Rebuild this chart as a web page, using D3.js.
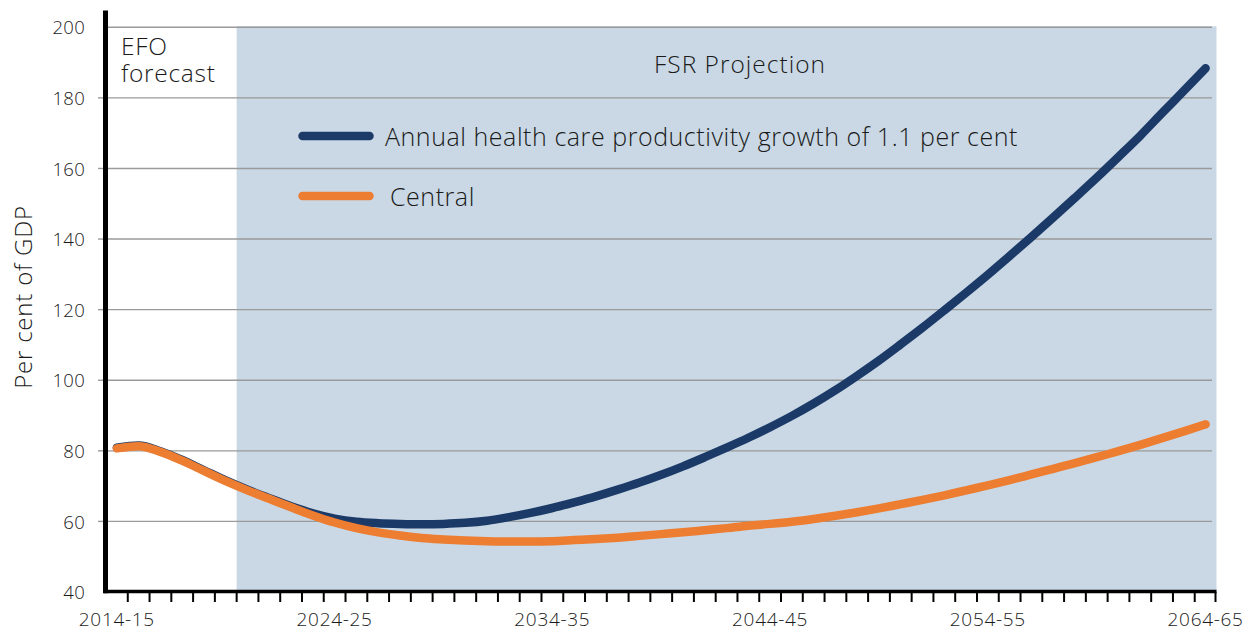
<!DOCTYPE html>
<html>
<head>
<meta charset="utf-8">
<script src="https://cdn.jsdelivr.net/npm/d3@7"></script>
<style>
  html, body { margin: 0; padding: 0; background: #ffffff; }
  svg { display: block; }
  text { font-family: "Open Sans", "Liberation Sans", Arial, sans-serif; font-weight: 300; fill: #1a1a1a; }
</style>
</head>
<body>
<svg id="chart" width="1253" height="633"></svg>
<script>
// ---- data ----
const categories = [
  "2014-15","2015-16","2016-17","2017-18","2018-19","2019-20","2020-21","2021-22","2022-23","2023-24",
  "2024-25","2025-26","2026-27","2027-28","2028-29","2029-30","2030-31","2031-32","2032-33","2033-34",
  "2034-35","2035-36","2036-37","2037-38","2038-39","2039-40","2040-41","2041-42","2042-43","2043-44",
  "2044-45","2045-46","2046-47","2047-48","2048-49","2049-50","2050-51","2051-52","2052-53","2053-54",
  "2054-55","2055-56","2056-57","2057-58","2058-59","2059-60","2060-61","2061-62","2062-63","2063-64",
  "2064-65"
];
const productivitySeries = [
  80.9, 81.5, 79.9, 77.4, 74.5, 71.6, 69.0, 66.6, 64.3, 62.3,
  60.8, 59.9, 59.5, 59.3, 59.2, 59.3, 59.6, 60.2, 61.2, 62.4,
  63.8, 65.4, 67.1, 69.0, 71.0, 73.2, 75.6, 78.2, 80.9, 83.7,
  86.7, 89.9, 93.4, 97.2, 101.3, 105.6, 110.2, 114.9, 119.8, 124.8,
  129.9, 135.2, 140.6, 146.1, 151.7, 157.4, 163.3, 169.3, 175.7, 182.0,
  188.4
];
const centralSeries = [
  80.7, 81.3, 79.7, 77.2, 74.3, 71.4, 68.8, 66.4, 64.0, 61.7,
  59.7, 58.1, 56.9, 56.0, 55.3, 54.9, 54.6, 54.4, 54.3, 54.3,
  54.4, 54.7, 55.0, 55.4, 55.9, 56.4, 56.9, 57.5, 58.1, 58.8,
  59.3, 59.9, 60.7, 61.6, 62.6, 63.7, 64.9, 66.1, 67.4, 68.8,
  70.2, 71.7, 73.3, 74.9, 76.5, 78.2, 79.9, 81.7, 83.6, 85.5,
  87.5
];
const seriesNames = ["Annual health care productivity growth of 1.1 per cent", "Central"];
const seriesColors = ["#1b3a68", "#ed7d31"];
const xTickLabels = ["2014-15","2024-25","2034-35","2044-45","2054-55","2064-65"];
const yTicks = [40, 60, 80, 100, 120, 140, 160, 180, 200];
const projectionStart = "2020-21";
const yTitle = "Per cent of GDP";
const forecastLabel = ["EFO", "forecast"];
const projectionLabel = "FSR Projection";

(function draw() {
  const svg = d3.select("#chart");
  const pl = 106, pr = 1216.5, pt = 27.3, pb = 592;

  const x = d3.scaleBand().domain(categories).range([pl, pr]).padding(0);
  const bw = x.bandwidth();
  const xc = c => x(c) + bw / 2;
  const y = d3.scaleLinear().domain([40, 200]).range([pb, pt]);

  // shaded projection area
  svg.append("rect")
    .attr("x", x(projectionStart))
    .attr("y", y(200) - 1)
    .attr("width", pr - x(projectionStart))
    .attr("height", pb - y(200) + 1)
    .attr("fill", "#c9d8e4");

  // gridlines
  svg.append("g").selectAll("line")
    .data(yTicks.filter(v => v > 40))
    .join("line")
    .attr("x1", pl + 2).attr("x2", pr - 4.5)
    .attr("y1", d => y(d)).attr("y2", d => y(d))
    .attr("stroke", "#9a9a9a").attr("stroke-width", 1.4);

  // y axis labels
  const yAxis = d3.axisLeft(y).tickValues(yTicks).tickSize(0).tickPadding(0).tickFormat(d3.format("d"));
  const gy = svg.append("g").attr("transform", `translate(${pl},0)`).call(yAxis);
  gy.select(".domain").remove();
  gy.selectAll(".tick text")
    .attr("x", -21)
    .attr("dy", "0.36em")
    .style("font-size", "18.5px")
    .style("font-family", "\"Open Sans\", \"Liberation Sans\", Arial, sans-serif")
    .style("font-weight", 300)
    .style("letter-spacing", "0.3px")
    .attr("fill", "#1a1a1a");
  svg.append("g").selectAll("line")
    .data(yTicks.filter(v => v > 40 && v < 200))
    .join("line")
    .attr("x1", pl - 8).attr("x2", pl)
    .attr("y1", d => y(d)).attr("y2", d => y(d))
    .attr("stroke", "#9a9a9a").attr("stroke-width", 1.4);

  // lines
  const line = d3.line()
    .x((d, i) => xc(categories[i]))
    .y(d => y(d))
    .curve(d3.curveMonotoneX);

  [productivitySeries, centralSeries].forEach((s, k) => {
    svg.append("path")
      .datum(s)
      .attr("d", line)
      .attr("fill", "none")
      .attr("stroke", seriesColors[k])
      .attr("stroke-width", 8.5)
      .attr("stroke-linecap", "round")
      .attr("stroke-linejoin", "round");
  });

  // x axis
  svg.append("line")
    .attr("x1", pl - 2.5).attr("x2", pr)
    .attr("y1", pb - 0.5).attr("y2", pb - 0.5)
    .attr("stroke", "#000").attr("stroke-width", 3.5);
  const tickPos = categories.slice(1).map(c => x(c)).concat([pr - 1]);
  svg.append("g").selectAll("line")
    .data(tickPos)
    .join("line")
    .attr("x1", d => d).attr("x2", d => d)
    .attr("y1", pb).attr("y2", pb + 10)
    .attr("stroke", "#000").attr("stroke-width", 2);
  svg.append("g").selectAll("text")
    .data(xTickLabels)
    .join("text")
    .attr("x", d => xc(d))
    .attr("y", 626)
    .attr("text-anchor", "middle")
    .style("font-size", "19px")
    .style("letter-spacing", "0.7px")
    .text(d => d);

  // y axis line
  svg.append("line")
    .attr("x1", pl - 0.5).attr("x2", pl - 0.5)
    .attr("y1", 10.5).attr("y2", pb + 1.2)
    .attr("stroke", "#000").attr("stroke-width", 5);

  // y title
  svg.append("text")
    .attr("transform", "translate(32,297) rotate(-90)")
    .attr("text-anchor", "middle")
    .style("font-size", "24px")
    .style("letter-spacing", "0.8px")
    .text(yTitle);

  // annotations
  const efo = svg.append("text")
    .attr("x", 121).attr("y", 55)
    .style("font-size", "24.5px")
    .style("letter-spacing", "0.7px");
  efo.append("tspan").attr("x", 121).attr("y", 55).text(forecastLabel[0]);
  efo.append("tspan").attr("x", 121).attr("y", 81.5).text(forecastLabel[1]);

  svg.append("text")
    .attr("x", 740).attr("y", 73)
    .attr("text-anchor", "middle")
    .style("font-size", "24.5px")
    .style("letter-spacing", "1px")
    .text(projectionLabel);

  // legend
  const legendY = [136, 196];
  const legendTextX = [385, 390];
  seriesNames.forEach((n, k) => {
    svg.append("line")
      .attr("x1", 302.5).attr("x2", 369.5)
      .attr("y1", legendY[k]).attr("y2", legendY[k])
      .attr("stroke", seriesColors[k])
      .attr("stroke-width", 8.5)
      .attr("stroke-linecap", "round");
    svg.append("text")
      .attr("x", legendTextX[k]).attr("y", legendY[k] + 9.5)
      .style("font-size", "25px")
      .style("letter-spacing", "0.55px")
      .text(n);
  });
})();
</script>
</body>
</html>
